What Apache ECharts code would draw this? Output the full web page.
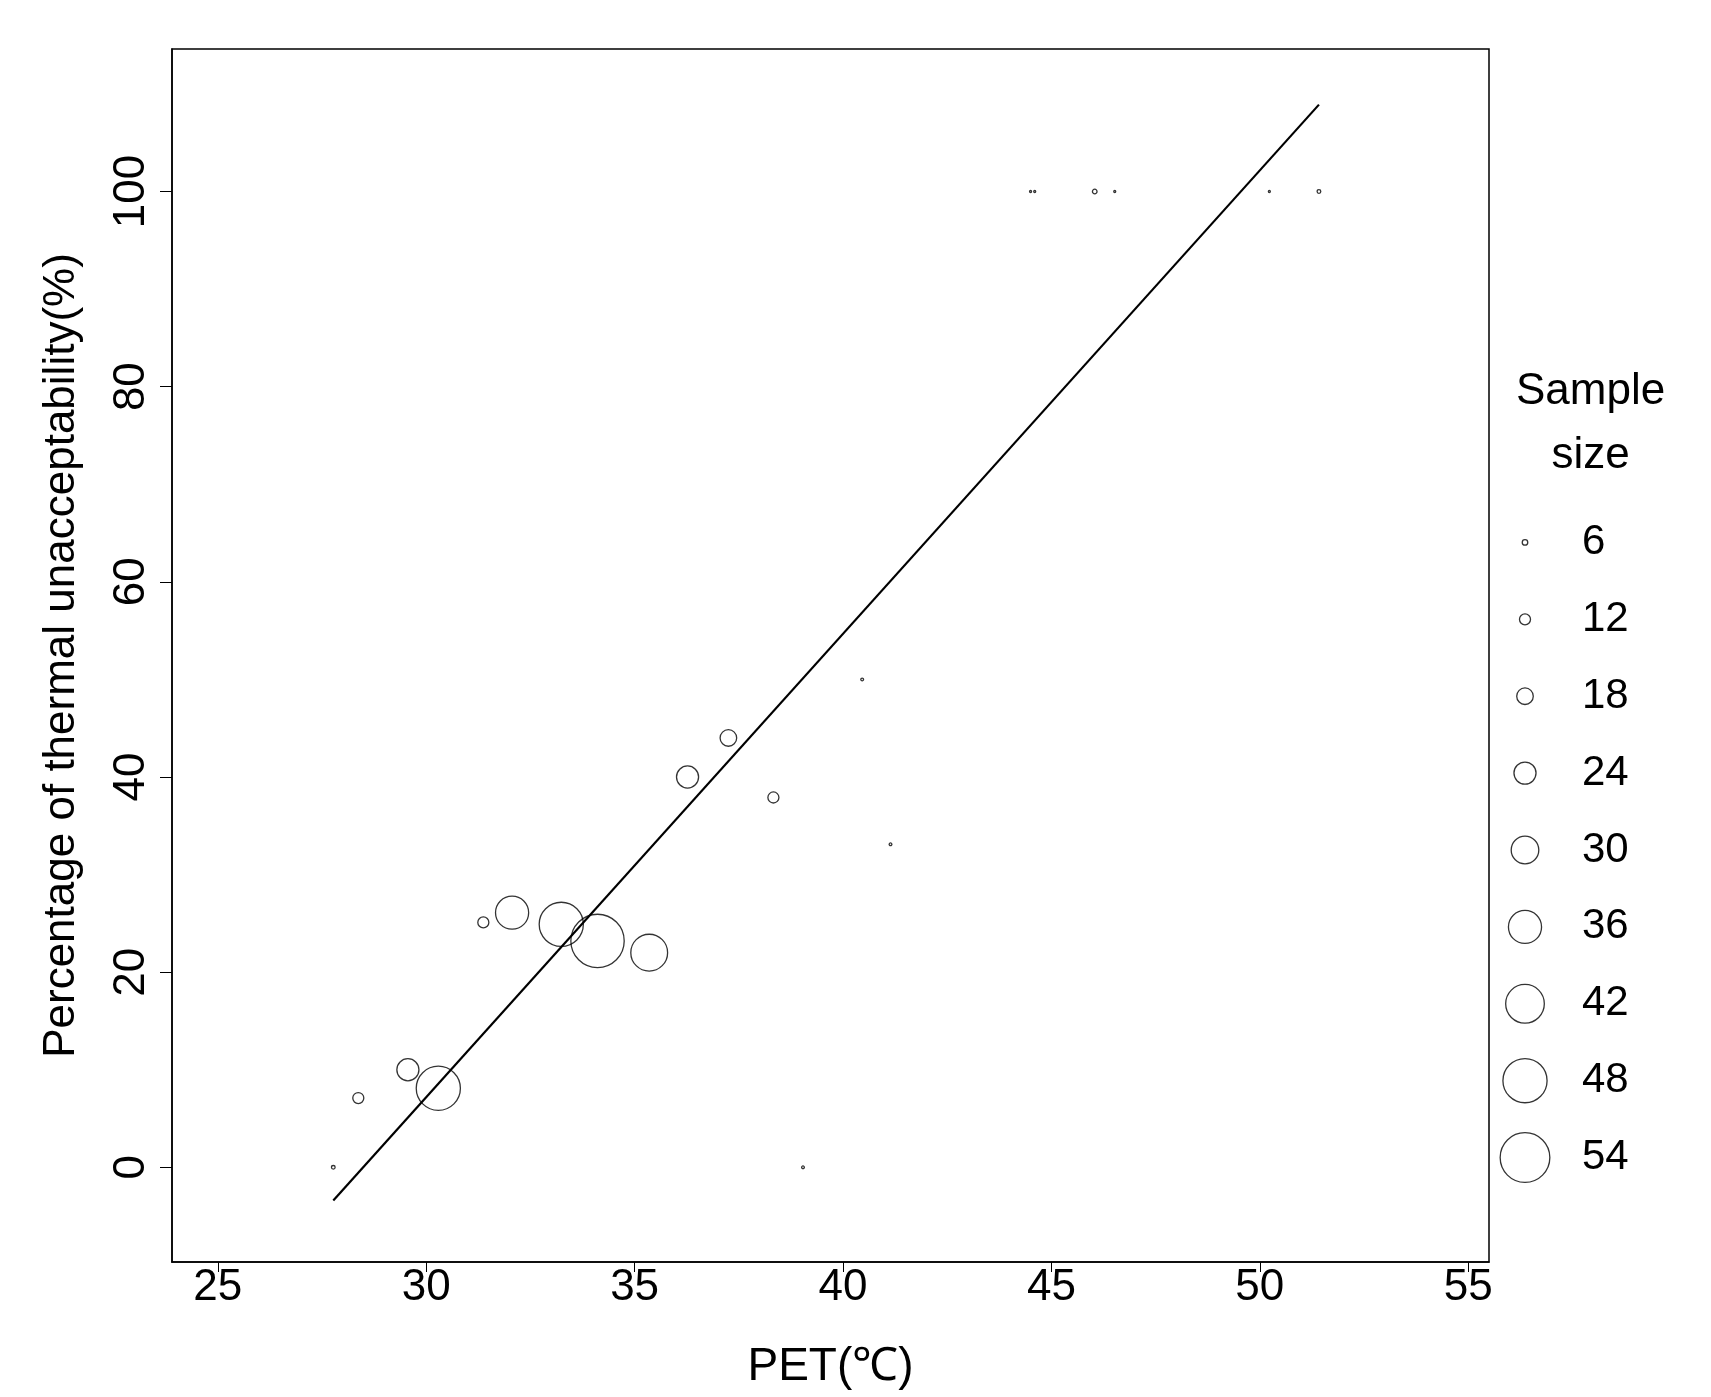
<!DOCTYPE html>
<html><head><meta charset="utf-8">
<script src="https://cdn.jsdelivr.net/npm/echarts@6/dist/echarts.min.js"></script>
<style>html,body{margin:0;padding:0;background:#fff}#c{width:1711px;height:1397px}</style>
</head><body><div id="c"></div>
<script>
const pet = [27.77,28.37,29.56,30.29,31.37,32.06,33.24,34.11,35.35,36.27,37.25,38.33,40.46,41.14,39.04,44.5,44.6,46.04,46.52,50.23,51.42];
const unacc = [0,7.1,10,8.1,25.1,26.1,24.9,23.2,22,40,44,37.9,50,33.1,0,100,100,100,100,100,100];
const sampleSize = [4,12,24,48,12,36,48,58,40,24,18,12,3,3,3,2,2,5,2,1,4];
const fitLine = [[27.77,-3.4],[51.42,108.9]];
const legendSizes = [6,12,18,24,30,36,42,48,54];
const xTicks = [25,30,35,40,45,50,55];
const yTicks = [0,20,40,60,80,100];
const sz = n => Math.max(2, n*0.92);
const font = 'Liberation Sans, Arial, sans-serif';
const chart = echarts.init(document.getElementById('c'));
chart.setOption({
  animation:false,
  graphic:[
    {type:'text',left:1516,top:360,style:{text:'Sample\nsize',font:'44px '+font,fill:'#000',align:'center',lineHeight:64,textAlign:'center'}}
  ],
  grid:[
    {left:172,top:49,width:1317,height:1213,show:true,borderColor:'#000',borderWidth:1.5},
    {left:1500,top:504,width:50,height:692}
  ],
  xAxis:[
    {gridIndex:0,type:'value',min:23.9,max:55.5,interval:5,
     axisLine:{show:true,onZero:false,lineStyle:{color:'#000',width:1.5}},
     axisTick:{show:true,length:10,lineStyle:{color:'#000'},customValues:xTicks},
     axisLabel:{color:'#000',fontSize:44,fontFamily:font,margin:4,customValues:xTicks},
     splitLine:{show:false},
     name:'PET(℃)',nameLocation:'middle',nameGap:82,nameTextStyle:{color:'#000',fontSize:46,fontFamily:font}},
    {gridIndex:1,type:'value',min:0,max:1,show:false}
  ],
  yAxis:[
    {gridIndex:0,type:'value',min:-9.7,max:114.6,
     axisLine:{show:true,onZero:false,lineStyle:{color:'#000',width:1.5}},
     axisTick:{show:true,length:12,lineStyle:{color:'#000'},customValues:yTicks},
     axisLabel:{color:'#000',fontSize:44,fontFamily:font,rotate:90,margin:18,customValues:yTicks},
     splitLine:{show:false},
     name:'Percentage of thermal unacceptability(%)',nameLocation:'middle',nameGap:88,
     nameTextStyle:{color:'#000',fontSize:44,fontFamily:font}},
    {gridIndex:1,type:'category',data:legendSizes.map(String),inverse:true,position:'right',
     axisLine:{show:false},axisTick:{show:false},
     axisLabel:{color:'#000',fontSize:42,fontFamily:font,margin:32}}
  ],
  series:[
    {type:'scatter',xAxisIndex:0,yAxisIndex:0,data:pet.map((x,i)=>[x,unacc[i],sampleSize[i]]),
     symbolSize:d=>sz(d[2]),itemStyle:{color:'rgba(0,0,0,0)',borderColor:'#000',borderWidth:1.3}},
    {type:'line',xAxisIndex:0,yAxisIndex:0,data:fitLine,symbol:'none',lineStyle:{color:'#000',width:2.2}},
    {type:'scatter',xAxisIndex:1,yAxisIndex:1,data:legendSizes.map((n,i)=>[0.5,i,n]),
     symbolSize:d=>sz(d[2]),itemStyle:{color:'rgba(0,0,0,0)',borderColor:'#000',borderWidth:1.3}}
  ]
});
</script></body></html>
